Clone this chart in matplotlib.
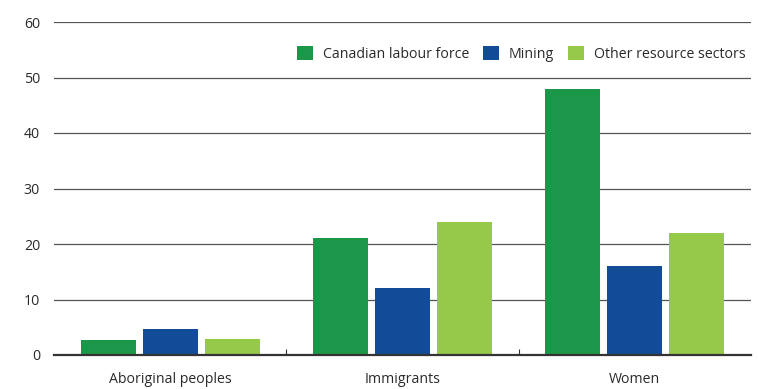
import matplotlib
matplotlib.use("Agg")
import matplotlib.pyplot as plt
import numpy as np

categories = ["Aboriginal peoples", "Immigrants", "Women"]
series_names = ["Canadian labour force", "Mining", "Other resource sectors"]
labour_force = [2.7, 21, 48]
mining = [4.7, 12, 16]
other_resource = [2.9, 24, 22]
yticks = [0, 10, 20, 30, 40, 50, 60]

colors = ["#1c9648", "#124c96", "#96c94a"]

plt.rcParams['font.family'] = ['Open Sans', 'DejaVu Sans']

fig = plt.figure(figsize=(7.59, 3.89), dpi=100)
ax = fig.add_axes([54/759, 34/389, 697/759, 333/389])

x = np.arange(len(categories))
w = 0.237
step = 0.267
for i, (vals, name) in enumerate(zip([labour_force, mining, other_resource], series_names)):
    ax.bar(x + (i - 1) * step, vals, width=w, color=colors[i], label=name, zorder=3)

fs = 10.2
tc = "#2a2a2a"
ax.set_xlim(-0.5, 2.5)
ax.set_ylim(0, 60)
ax.set_yticks(yticks)
ax.set_yticklabels([str(v) for v in yticks], fontsize=fs, color=tc)
ax.set_xticks(x)
ax.set_xticklabels(categories, fontsize=fs, color=tc)
ax.set_xticks([0.5, 1.5], minor=True)
ax.tick_params(axis='x', which='major', length=0, pad=12)
ax.tick_params(axis='x', which='minor', direction='in', length=4, width=0.8, color="#333333")
ax.tick_params(axis='y', length=0, pad=10)

ax.grid(axis='y', color="#555555", linewidth=0.9, zorder=0)
for s in ["top", "right", "left"]:
    ax.spines[s].set_visible(False)
ax.spines["bottom"].set_color("#333333")
ax.spines["bottom"].set_linewidth(1.6)
ax.spines["bottom"].set_zorder(4)

leg = ax.legend(loc="upper right", bbox_to_anchor=(1.0, 0.945), ncol=3, frameon=False,
                fontsize=fs, handlelength=1.1, handleheight=1.1, handletextpad=0.7,
                columnspacing=1.0, borderaxespad=0)
for t in leg.get_texts():
    t.set_color(tc)
leg.set_zorder(5)

fig.savefig("out.png", dpi=100, facecolor="white")
